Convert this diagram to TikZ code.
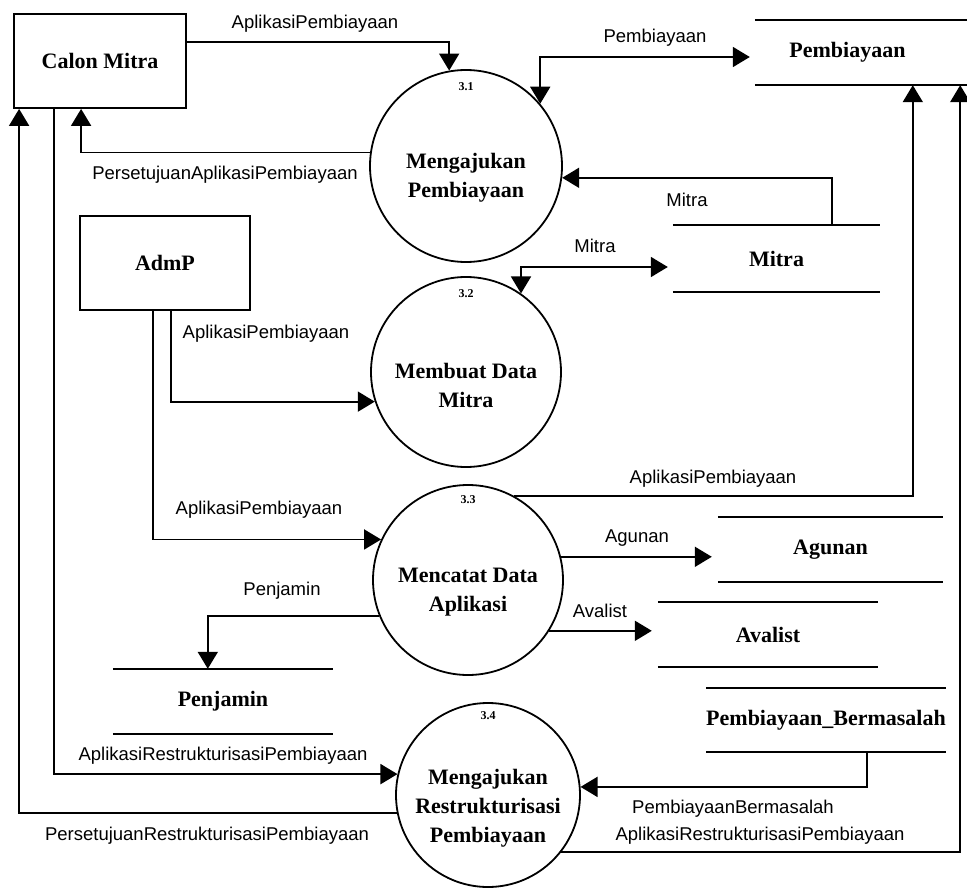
\documentclass[tikz,border=0pt]{standalone}
\usepackage{fontspec}
\setmainfont{Liberation Serif}
\newfontfamily\lblfont{Liberation Sans}
\usetikzlibrary{arrows.meta,calc}

\begin{document}
\begin{tikzpicture}[x=1pt,y=-1pt,
  tip/.tip={Triangle[length=17pt,width=20pt]},
  line/.style={line width=1.8pt},
  flow/.style={line,-tip},
  biflow/.style={line,tip-tip},
  entity/.style={draw,line width=1.8pt,rectangle,minimum width=172pt,minimum height=94pt,
    font=\fontsize{22}{26}\selectfont\bfseries},
  proc/.style={draw,line width=1.8pt,circle,inner sep=0pt},
  ptext/.style={align=center,inner sep=0pt,font=\fontsize{22}{29}\selectfont\bfseries},
  store/.style={rectangle,inner sep=0pt,font=\fontsize{22}{26}\selectfont\bfseries},
  lbl/.style={inner sep=0pt,font=\lblfont\fontsize{18.5}{20}\selectfont},
  num/.style={inner sep=0pt,font=\fontsize{12}{13}\selectfont\bfseries}
]
\useasboundingbox (0,0) rectangle (967,888);

% external entities
\node[entity] (cm) at (100,61) {Calon Mitra};
\node[entity,minimum width=170pt] (adm) at (165,263) {AdmP};

% processes
\node[proc,minimum size=192pt] (p1) at (466,166) {};
\node[proc,minimum size=190pt] (p2) at (466,372) {};
\node[proc,minimum size=190pt] (p3) at (468,580) {};
\node[proc,minimum size=184pt] (p4) at (488,795) {};
\node[ptext] (t1) at (466,178) {Mengajukan\\Pembiayaan};
\node[ptext] (t2) at (466,385) {Membuat Data\\Mitra};
\node[ptext] (t3) at (468,592) {Mencatat Data\\Aplikasi};
\node[ptext] (t4) at (488,808) {Mengajukan\\Restrukturisasi\\Pembiayaan};
\node[num] (n1) at ($(p1.north)+(0,18)$) {3.1};
\node[num] (n2) at ($(p2.north)+(0,18)$) {3.2};
\node[num] (n3) at ($(p3.north)+(0,16)$) {3.3};
\node[num] (n4) at ($(p4.north)+(0,14)$) {3.4};

% data stores
\node[store,minimum width=185pt,minimum height=65pt] (sPem) at (847.5,52.5) {Pembiayaan};
\node[store,minimum width=207pt,minimum height=67pt] (sMit) at (776.5,258.5) {Mitra};
\node[store,minimum width=225pt,minimum height=65pt] (sAgu) at (830.5,549.5) {Agunan};
\node[store,minimum width=220pt,minimum height=65pt] (sAva) at (768,634.5) {Avalist};
\node[store,minimum width=222pt,minimum height=64pt] (sPB) at (826,720) {Pembiayaan\_Bermasalah};
\node[store,minimum width=220pt,minimum height=65pt] (sPen) at (223,701.5) {Penjamin};

\draw[line] (sPem.north west) -- ($(sPem.north east)+(27,0)$)
            (sPem.south west) -- ($(sPem.south east)+(27,0)$);
\foreach \s in {sMit,sAgu,sAva,sPB,sPen}
  \draw[line] (\s.north west) -- (\s.north east) (\s.south west) -- (\s.south east);

% data flows
\draw[flow] ($(cm.north east)+(0,29)$) -| (p1.100);
\draw[flow] (p1.172) -| ($(cm.south west)+(68,0)$);
\draw[flow] ($(cm.south west)+(41,0)$) |- (p4.167);
\draw[flow] (p4.191) -| ($(cm.south west)+(6,0)$);
\draw[flow] ($(adm.south west)+(92,0)$) |- (p2.198);
\draw[flow] ($(adm.south west)+(74,0)$) |- (p3.155);
\draw[biflow] (p1.40) |- ($(sPem.west)+(-5,4.5)$);
\draw[flow] ($(sMit.north west)+(159,0)$) |- (p1.353);
\draw[biflow] (p2.55) |- ($(sMit.west)+(-5,8.5)$);
\draw[flow] (p3.61) -| ($(sPem.south west)+(158,0)$);
\draw[flow] (p4.322) -| ($(sPem.south east)+(20,0)$);
\draw[flow] (p3.14) -- ($(p3.14 -| sAgu.west)+(-6,0)$);
\draw[flow] (p3.328) -- ($(p3.328 -| sAva.west)+(-6,0)$);
\draw[flow] (p3.202) -| ($(sPen.north west)+(95,0)$);
\draw[flow] ($(sPB.south west)+(161,0)$) |- (p4.5);

% flow labels
\node[lbl] (l1) at (315,24) {AplikasiPembiayaan};
\node[lbl] (l2) at (225,175) {PersetujuanAplikasiPembiayaan};
\node[lbl] (l3) at (655,38) {Pembiayaan};
\node[lbl] (l4) at (687,200) {Mitra};
\node[lbl] (l5) at (595,246) {Mitra};
\node[lbl] (l6) at (266,334) {AplikasiPembiayaan};
\node[lbl] (l7) at (259,510) {AplikasiPembiayaan};
\node[lbl] (l8) at (713,479) {AplikasiPembiayaan};
\node[lbl] (l9) at (637,538) {Agunan};
\node[lbl] (l10) at (600,611) {Avalist};
\node[lbl] (l11) at (282,591) {Penjamin};
\node[lbl] (l12) at (223,756) {AplikasiRestrukturisasiPembiayaan};
\node[lbl] (l13) at (207,836) {PersetujuanRestrukturisasiPembiayaan};
\node[lbl] (l14) at (733,809) {PembiayaanBermasalah};
\node[lbl] (l15) at (760,836) {AplikasiRestrukturisasiPembiayaan};
\end{tikzpicture}
\end{document}
